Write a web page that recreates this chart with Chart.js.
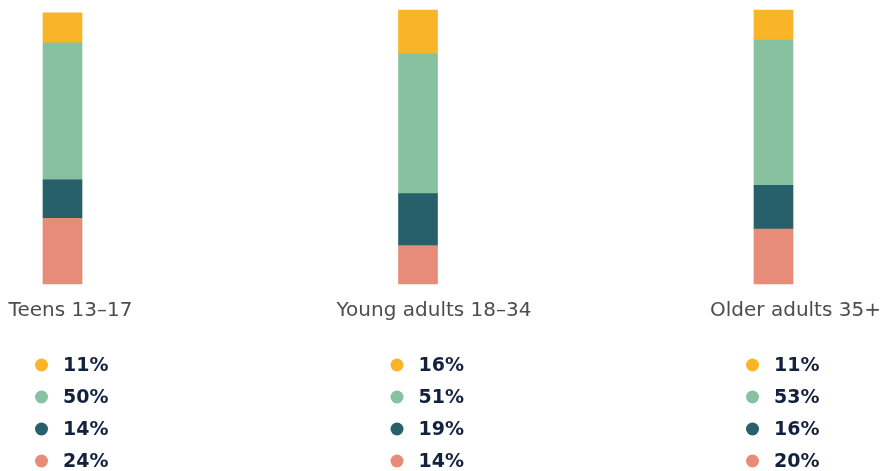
<!DOCTYPE html>
<html>
<head>
<meta charset="utf-8">
<script src="https://cdn.jsdelivr.net/npm/chart.js@4/dist/chart.umd.min.js"></script>
<style>
  html, body { margin: 0; padding: 0; background: #fff; }
  #wrap { width: 887px; height: 471px; }
</style>
</head>
<body>
<div id="wrap"><canvas id="chart" width="887" height="471"></canvas></div>
<script>
(function(){
  // age groups and their shares (%), listed top segment first
  const groups = ['Teens 13–17', 'Young adults 18–34', 'Older adults 35+'];
  const shareTop    = [11, 16, 11];
  const shareUpper  = [50, 51, 53];
  const shareLower  = [14, 19, 16];
  const shareBottom = [24, 14, 20];

  const colors = ['#F9B428', '#87C1A0', '#27606A', '#E78C78'];
  const lists = [shareTop, shareUpper, shareLower, shareBottom];

  // little nudges so each group caption sits where it should
  const captionShift = [8, 16, 22];

  // captions and the dot/percent list under every bar
  const captionsPlugin = {
    id: 'captions',
    afterDraw(chart){
      const ctx = chart.ctx;
      const x = chart.scales.x;
      ctx.save();
      groups.forEach((g, i)=>{
        const cx = x.getPixelForValue(i);
        ctx.fillStyle = '#4d4d4d';
        ctx.font = '20px "DejaVu Sans"';
        ctx.textAlign = 'center';
        ctx.textBaseline = 'middle';
        ctx.fillText(g, cx + captionShift[i], 311);

        lists.forEach((arr, k)=>{
          const y = 365 + k*32;
          ctx.beginPath();
          ctx.fillStyle = colors[k];
          ctx.arc(cx - 21, y, 6.5, 0, Math.PI*2);
          ctx.fill();
          ctx.fillStyle = '#14213D';
          ctx.font = 'bold 19px "DejaVu Sans"';
          ctx.textAlign = 'right';
          ctx.fillText(arr[i] + '%', cx + 46, y + 1);
        });
      });
      ctx.restore();
    }
  };

  // stacked from the bottom up
  const datasets = lists.map((arr, k)=>({
    data: arr,
    backgroundColor: colors[k],
    barThickness: 39,
    clip: false
  })).reverse();

  new Chart(document.getElementById('chart'), {
    type: 'bar',
    data: { labels: groups, datasets },
    options: {
      responsive: false,
      devicePixelRatio: 1,
      animation: false,
      layout: { padding: { left: 62.5, right: 113.5, top: 10, bottom: 187 } },
      plugins: { legend: { display: false }, tooltip: { enabled: false } },
      scales: {
        x: { stacked: true, offset: false, display: false, grid: { display: false } },
        y: { stacked: true, min: 0, max: 100, display: false, grid: { display: false } }
      }
    },
    plugins: [captionsPlugin]
  });
})();
</script>
</body>
</html>
